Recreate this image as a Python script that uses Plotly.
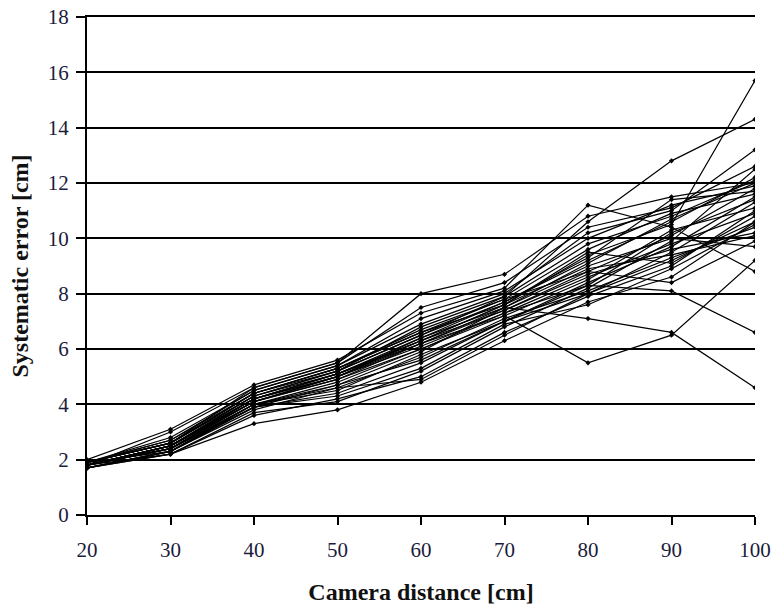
import plotly.graph_objects as go

distances = [20, 30, 40, 50, 60, 70, 80, 90, 100]

s01 = [1.9, 2.6, 4.4, 5.3, 6.6, 7.6, 9.4, 10.5, 15.7]
s02 = [1.8, 2.5, 4.3, 5.2, 6.5, 7.9, 10.6, 12.8, 14.3]
s03 = [1.9, 2.7, 4.5, 5.4, 6.9, 8.0, 10.2, 11.0, 13.2]
s04 = [1.8, 2.4, 4.2, 5.1, 6.2, 7.2, 5.5, 6.5, 9.2]
s05 = [1.7, 2.3, 3.9, 4.7, 5.9, 7.5, 7.1, 6.6, 4.6]
s06 = [1.8, 2.5, 4.1, 5.0, 6.1, 7.3, 8.3, 8.1, 6.6]
s07 = [2.0, 3.1, 4.7, 5.6, 7.3, 8.2, 11.2, 10.4, 8.8]
s08 = [1.8, 2.2, 3.3, 3.8, 4.8, 6.3, 7.7, 8.6, 10.6]
s09 = [1.7, 2.2, 3.6, 4.2, 5.0, 6.6, 7.9, 9.0, 11.0]
s10 = [1.9, 2.6, 4.6, 5.5, 8.0, 8.7, 10.8, 11.5, 12.0]
s11 = [1.8, 2.4, 4.0, 4.5, 5.8, 7.0, 8.4, 9.7, 11.5]
s12 = [1.8, 2.5, 4.2, 5.0, 6.3, 7.4, 8.8, 10.1, 11.8]
s13 = [1.9, 2.6, 4.3, 5.2, 6.5, 7.7, 9.2, 10.6, 12.2]
s14 = [1.7, 2.3, 3.8, 4.6, 5.7, 7.1, 8.1, 9.3, 10.4]
s15 = [1.8, 2.5, 4.1, 4.9, 6.0, 7.3, 8.6, 9.8, 10.9]
s16 = [1.9, 2.7, 4.4, 5.3, 6.7, 7.8, 9.6, 10.9, 11.6]
s17 = [1.8, 2.4, 3.9, 4.4, 5.5, 7.0, 8.0, 9.5, 11.3]
s18 = [1.7, 2.2, 3.7, 4.1, 5.2, 6.8, 8.2, 9.9, 12.5]
s19 = [1.8, 2.5, 4.2, 5.1, 6.4, 7.5, 8.9, 9.4, 10.1]
s20 = [1.9, 2.8, 4.5, 5.4, 7.1, 8.1, 10.0, 11.2, 11.9]
s21 = [1.8, 2.4, 4.0, 4.8, 6.0, 7.2, 8.5, 10.3, 11.1]
s22 = [1.7, 2.3, 3.9, 4.3, 5.3, 6.9, 7.6, 8.9, 10.5]
s23 = [1.8, 2.5, 4.3, 5.1, 6.3, 7.6, 9.0, 10.0, 9.7]
s24 = [1.9, 2.6, 4.4, 5.2, 6.8, 7.9, 9.8, 10.8, 12.1]
s25 = [1.8, 2.4, 4.1, 4.9, 6.2, 7.4, 8.7, 9.6, 10.2]
s26 = [1.8, 2.5, 4.2, 5.0, 6.4, 7.7, 9.3, 11.4, 11.7]
s27 = [1.7, 2.3, 4.0, 4.7, 5.6, 7.0, 8.3, 10.2, 11.4]
s28 = [1.9, 2.6, 4.4, 5.3, 6.6, 7.8, 8.8, 8.4, 9.9]
s29 = [1.8, 2.4, 4.1, 5.0, 6.2, 7.5, 9.1, 10.7, 12.0]
s30 = [1.8, 2.5, 4.2, 5.1, 6.3, 7.6, 9.5, 9.1, 10.8]
s31 = [1.9, 2.3, 4.0, 4.6, 4.9, 6.5, 8.0, 9.2, 10.6]
s32 = [1.8, 3.0, 4.6, 5.5, 7.5, 8.4, 10.4, 11.1, 12.6]

series = [s01, s02, s03, s04, s05, s06, s07, s08, s09, s10, s11, s12, s13, s14, s15, s16,
          s17, s18, s19, s20, s21, s22, s23, s24, s25, s26, s27, s28, s29, s30, s31, s32]

y_ticks = [0, 2, 4, 6, 8, 10, 12, 14, 16, 18]
x_ticks = [20, 30, 40, 50, 60, 70, 80, 90, 100]

fig = go.Figure()
for s in series:
    fig.add_trace(go.Scatter(
        x=distances, y=s, mode="lines+markers",
        line=dict(color="black", width=1.2),
        marker=dict(symbol="diamond", size=4, color="black"),
        showlegend=False, hoverinfo="skip",
    ))

serif = "Liberation Serif, Times New Roman, serif"
tick_color = "#1c1c3c"

fig.update_layout(
    width=778, height=610,
    margin=dict(l=87, r=23, t=17, b=95, autoexpand=False),
    paper_bgcolor="white", plot_bgcolor="white",
    font=dict(family=serif, color="black"),
)
fig.update_xaxes(
    range=[20, 100], tickvals=x_ticks, ticktext=[str(v) for v in x_ticks],
    automargin=False,
    showgrid=False, zeroline=False,
    showline=True, mirror=True, linecolor="black", linewidth=2,
    ticks="outside", ticklen=8, tickwidth=2, tickcolor="black",
    ticklabelstandoff=7, ticklabeloverflow="allow",
    tickfont=dict(family=serif, size=21, color=tick_color),
    title=dict(text="<b>Camera distance [cm]</b>", font=dict(family=serif, size=24, color="#111"), standoff=22),
)
fig.update_yaxes(
    range=[0, 18], tickvals=y_ticks, ticktext=[str(v) for v in y_ticks],
    automargin=False,
    showgrid=True, gridcolor="black", gridwidth=2, zeroline=False,
    showline=True, linecolor="black", linewidth=2,
    ticks="outside", ticklen=9, tickwidth=2, tickcolor="black",
    ticklabelstandoff=3, ticklabeloverflow="allow",
    tickfont=dict(family=serif, size=21, color=tick_color),
    title=dict(text="<b>Systematic error [cm]</b>", font=dict(family=serif, size=24, color="#111"), standoff=12),
)

# remove the default page margin so the 778x610 figure sits at the window origin
fig.write_html(
    "out.html",
    config={"displayModeBar": False, "staticPlot": True},
    post_script="document.body.style.margin='0';",
)
